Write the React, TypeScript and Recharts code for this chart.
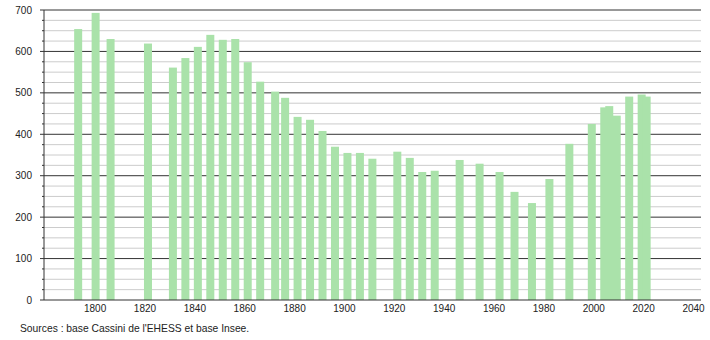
import React from 'react';
import { BarChart, Bar, XAxis, YAxis, CartesianGrid } from 'recharts';

const years = [1793, 1800, 1806, 1821, 1831, 1836, 1841, 1846, 1851, 1856, 1861, 1866, 1872, 1876, 1881, 1886, 1891, 1896, 1901, 1906, 1911, 1921, 1926, 1931, 1936, 1946, 1954, 1962, 1968, 1975, 1982, 1990, 1999, 2004, 2006, 2009, 2014, 2019, 2021];
const population = [654, 693, 630, 619, 561, 584, 611, 640, 628, 630, 574, 527, 503, 488, 442, 435, 408, 370, 355, 355, 341, 358, 343, 309, 312, 338, 329, 309, 261, 234, 292, 377, 425, 465, 468, 445, 491, 496, 491];
const xTicks = [1800, 1820, 1840, 1860, 1880, 1900, 1920, 1940, 1960, 1980, 2000, 2020, 2040];
const yTicks = Array.from({ length: 29 }, (_, i) => i * 25);
const sourceText = "Sources : base Cassini de l'EHESS et base Insee.";

const data = years.map((y, i) => ({ year: y, pop: population[i] }));

const FONT = '"Liberation Sans", Arial, Helvetica, sans-serif';
const DARK = '#333333';
const LIGHT = '#cccccc';
const BAR = '#aae2aa';
const BAR_W = 8;

const YTick = (props: any) => {
  const { x, y, payload } = props;
  const v = payload.value;
  const major = v % 100 === 0;
  return (
    <g>
      <line x1={x - (major ? 4 : 2)} x2={x} y1={y} y2={y} stroke={DARK} strokeWidth={1} />
      {major && (
        <text x={x - 12} y={y} dy="0.35em" textAnchor="end" fontSize={10} fontFamily={FONT} fill="#222">
          {v}
        </text>
      )}
    </g>
  );
};

const gridLine = (props: any) => {
  const { x1, x2, y1, y2, index } = props;
  const v = yTicks[index];
  const major = v % 100 === 0;
  if (v === 0) return <g key={`g${index}`} />;
  return <line key={`g${index}`} x1={x1} x2={x2} y1={y1} y2={y2} stroke={major ? DARK : LIGHT} strokeWidth={1} />;
};

const BarShape = (props: any) => {
  const { x, y, width, height } = props;
  const cx = x + width / 2;
  return <rect x={cx - BAR_W / 2 + 0.5} y={y} width={BAR_W} height={height} fill={BAR} />;
};

export default function App() {
  return (
    <div style={{ position: 'absolute', left: 0, top: 0, width: 710, height: 340, background: '#fff' }}>
      <BarChart width={710} height={340} data={data} margin={{ top: 10, right: 9, left: 0, bottom: 0 }}>
        <CartesianGrid vertical={false} horizontal={gridLine} />
        <XAxis
          dataKey="year"
          type="number"
          domain={[1779.5, 2043]}
          allowDataOverflow
          ticks={xTicks}
          interval={0}
          tickLine={false}
          tickSize={0}
          tickMargin={5}
          height={40}
          axisLine={{ stroke: DARK }}
          tick={{ fontSize: 10, fontFamily: FONT, fill: '#222' }}
        />
        <YAxis
          type="number"
          domain={[0, 700]}
          ticks={yTicks}
          interval={0}
          width={44}
          tickLine={false}
          tickSize={0}
          tickMargin={0}
          axisLine={{ stroke: DARK }}
          tick={<YTick />}
        />
        <Bar dataKey="pop" fill={BAR} shape={<BarShape />} isAnimationActive={false} />
      </BarChart>
      <div style={{ position: 'absolute', left: 20, top: 323, fontSize: 10.3, fontFamily: FONT, color: '#222', whiteSpace: 'nowrap' }}>
        {sourceText}
      </div>
    </div>
  );
}
